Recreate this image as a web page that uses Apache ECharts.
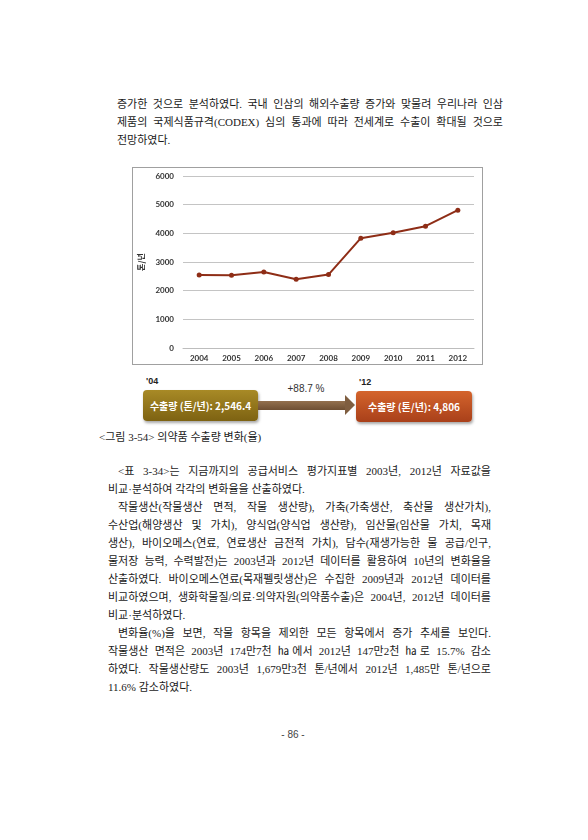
<!DOCTYPE html>
<html><head><meta charset="utf-8">
<script src="https://cdn.jsdelivr.net/npm/echarts@6/dist/echarts.min.js"></script>
<style>
html,body{margin:0;padding:0;background:#fff;width:588px;height:840px;overflow:hidden;}
body{position:relative;font-family:"Liberation Serif","Noto Sans CJK KR",serif;color:#1a1a1a;font-size:11px;}
.blk{position:absolute;}
.ln{height:18px;line-height:18px;white-space:nowrap;}
.j{text-align:justify;text-align-last:justify;white-space:normal;}
.ind{padding-left:10px;}
#chartWrap{position:absolute;left:132px;top:167px;width:349px;height:196px;border:1px solid #a0a0a0;}
#chart{width:349px;height:196px;}
.box{position:absolute;height:31px;line-height:31px;border-radius:4px;color:#fff;font-family:"Noto Sans CJK KR",sans-serif;font-weight:bold;font-size:10px;text-align:center;box-shadow:1px 2px 3px rgba(0,0,0,0.35);}
.tag{position:absolute;font-family:"Liberation Sans","Noto Sans CJK KR",sans-serif;font-weight:bold;font-size:9px;color:#222;}
</style></head>
<body>
<div class="blk" style="left:117px;top:95px;width:386px;">
<div class="ln j">증가한 것으로 분석하였다. 국내 인삼의 해외수출량 증가와 맞물려 우리나라 인삼</div>
<div class="ln j">제품의 국제식품규격(CODEX) 심의 통과에 따라 전세계로 수출이 확대될 것으로</div>
<div class="ln">전망하였다.</div>
</div>

<div id="chartWrap"><div id="chart"></div></div>

<div class="tag" style="left:146px;top:376px;">'04</div>
<div class="tag" style="left:359px;top:377px;">'12</div>
<div class="box" style="left:143px;top:390px;width:115px;background:linear-gradient(#a88a26,#7d6212);">수출량 (톤/년): 2,546.4</div>
<div style="position:absolute;left:258px;top:401px;width:88px;height:9px;background:linear-gradient(#93704e,#6e4f33);"></div>
<div style="position:absolute;left:345px;top:395px;width:0;height:0;border-top:10.5px solid transparent;border-bottom:10.5px solid transparent;border-left:10px solid #7f5e40;"></div>
<div style="position:absolute;left:280px;top:383px;width:52px;text-align:center;font-family:'Liberation Sans',sans-serif;font-size:10px;color:#333;">+88.7 %</div>
<div class="box" style="left:356px;top:391px;width:116px;background:linear-gradient(#d4642c,#a9401a);">수출량 (톤/년): 4,806</div>

<div class="blk" style="left:99px;top:428px;">
<div class="ln">&lt;그림 3-54&gt; 의약품 수출량 변화(율)</div>
</div>

<div class="blk" style="left:108px;top:462px;width:383px;">
<div class="ln j ind">&lt;표 3-34&gt;는 지금까지의 공급서비스 평가지표별 2003년, 2012년 자료값을</div>
<div class="ln">비교·분석하여 각각의 변화율을 산출하였다.</div>
<div class="ln j ind">작물생산(작물생산 면적, 작물 생산량), 가축(가축생산, 축산물 생산가치),</div>
<div class="ln j">수산업(해양생산 및 가치), 양식업(양식업 생산량), 임산물(임산물 가치, 목재</div>
<div class="ln j">생산), 바이오메스(연료, 연료생산 금전적 가치), 담수(재생가능한 물 공급/인구,</div>
<div class="ln j">물저장 능력, 수력발전)는 2003년과 2012년 데이터를 활용하여 10년의 변화율을</div>
<div class="ln j">산출하였다. 바이오메스연료(목재펠릿생산)은 수집한 2009년과 2012년 데이터를</div>
<div class="ln j">비교하였으며, 생화학물질/의료·의약자원(의약품수출)은 2004년, 2012년 데이터를</div>
<div class="ln">비교·분석하였다.</div>
<div class="ln j ind">변화율(%)을 보면, 작물 항목을 제외한 모든 항목에서 증가 추세를 보인다.</div>
<div class="ln j">작물생산 면적은 2003년 174만7천 ㏊에서 2012년 147만2천 ㏊로 15.7% 감소</div>
<div class="ln j">하였다. 작물생산량도 2003년 1,679만3천 톤/년에서 2012년 1,485만 톤/년으로</div>
<div class="ln">11.6% 감소하였다.</div>
</div>

<div class="blk" style="left:263px;top:729px;width:60px;text-align:center;font-family:'Liberation Sans',sans-serif;font-size:10px;color:#444;">- 86 -</div>

<script>
const years = ['2004','2005','2006','2007','2008','2009','2010','2011','2012'];
const exportVolume = [2546.4, 2540, 2650, 2400, 2560, 3830, 4020, 4250, 4806];
const yTicks = {min: 0, max: 6000, interval: 1000};
const yName = '톤/년';

const chart = echarts.init(document.getElementById('chart'), null, {renderer: 'canvas'});
chart.setOption({
  animation: false,
  grid: {left: 50, right: 8, top: 8, bottom: 16, containLabel: false, outerBoundsMode: 'none'},
  xAxis: {
    type: 'category', data: years, boundaryGap: true,
    axisLine: {lineStyle: {color: '#bdbdbd'}},
    axisTick: {show: false},
    axisLabel: {color: '#333', fontSize: 8, fontWeight: 'bold', fontFamily: 'Lato', margin: 6}
  },
  yAxis: {
    type: 'value', min: yTicks.min, max: yTicks.max, interval: yTicks.interval,
    name: yName, nameLocation: 'middle', nameGap: 36, nameRotate: 90,
    nameTextStyle: {color: '#333', fontSize: 8, fontFamily: 'Noto Sans CJK KR', fontWeight: 'bold'},
    axisLine: {show: false}, axisTick: {show: false},
    axisLabel: {color: '#333', fontSize: 8, fontWeight: 'bold', fontFamily: 'Lato', margin: 9,
      formatter: function (v) { return String(v); }},
    splitLine: {lineStyle: {color: '#c4c4c4', width: 1}}
  },
  series: [{
    type: 'line', data: exportVolume,
    symbol: 'circle', symbolSize: 5,
    lineStyle: {color: '#8e2d16', width: 2},
    itemStyle: {color: '#8e2d16'}
  }]
});
</script>
</body></html>
